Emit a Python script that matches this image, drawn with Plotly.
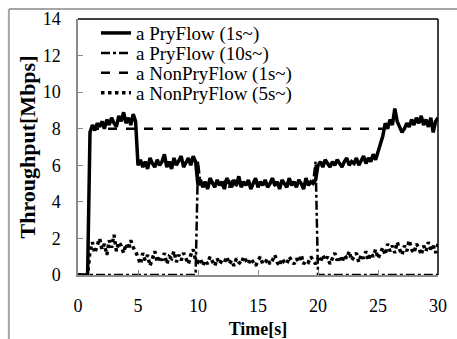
import numpy as np
import plotly.graph_objects as go

# time grid (s), step 0.2
time_s = [round(0.2 * i, 1) for i in range(151)]

pry_1s = [
    0, 0, 0, 0, 0,
    7.8, 8.2, 7.9, 8.3, 8.1, 8.4, 8.0, 8.5, 8.2, 8.6,
    8.3, 8.1, 8.7, 8.4, 8.9, 8.3, 8.6, 8.2, 8.8, 8.4,
    6.0, 6.3, 5.9, 6.2, 5.8, 6.4, 6.1, 5.9, 6.3, 6.0,
    6.2, 6.6, 5.9, 6.2, 5.8, 6.4, 6.0, 6.3, 6.5, 5.9,
    6.2, 6.4, 6.0, 6.5, 6.2,
    4.9, 5.2, 4.8, 5.1, 4.7, 5.3, 5.0, 4.8, 5.2, 4.9,
    5.1, 4.7, 5.3, 5.0, 4.8, 5.2, 4.9, 5.4, 4.8, 5.1,
    4.9, 5.2, 4.7, 5.0, 5.3, 4.8, 5.1, 4.9, 5.2, 4.8,
    5.0, 5.3, 4.9, 5.1, 4.7, 5.2, 5.0, 4.8, 5.3, 4.9,
    5.1, 4.8, 5.2, 5.0, 4.7, 5.3, 4.9, 5.1, 5.0, 5.2,
    6.0, 6.2, 5.9, 6.3, 6.1, 5.9, 6.2, 6.0, 6.3, 6.1,
    5.9, 6.2, 6.4, 6.0, 6.2, 6.1, 6.4, 6.0, 6.3, 6.5,
    6.1, 6.4, 6.2, 6.6, 6.3, 6.7, 7.2,
    7.6, 8.3, 8.0, 8.5, 8.2, 9.1, 8.4, 8.1, 7.8, 8.0,
    8.3, 8.1, 8.5, 8.2, 8.6, 8.3, 8.7, 8.2, 8.5, 8.1,
    8.6, 7.8, 8.4, 8.6,
]

pry_10s = [0.0] * 50 + [
    6.2, 5.0, 4.9, 5.1, 4.8, 5.1, 5.0, 4.9, 5.1, 5.0,
    4.9, 5.1, 5.0, 4.8, 5.1, 5.0, 4.9, 5.2, 4.9, 5.0,
    5.0, 5.1, 4.8, 5.0, 5.2, 4.9, 5.0, 5.0, 5.1, 4.9,
    5.0, 5.2, 4.9, 5.0, 4.8, 5.1, 5.0, 4.9, 5.2, 5.0,
    5.0, 4.9, 5.1, 5.0, 4.8, 5.2, 5.0, 5.0, 5.1, 6.2,
] + [0.0] * 51

nonpry_1s_t = [1.0, 25.4]
nonpry_1s = [8.0, 8.0]

nonpry_5s = [
    0, 0, 0, 0, 0,
    1.3, 1.8, 1.2, 1.6, 2.0, 1.4, 1.7, 1.1, 1.9, 1.5,
    2.2, 1.3, 1.8, 1.6, 1.2, 1.7, 1.4, 1.9, 1.5, 1.3,
    0.9, 0.6, 1.2, 0.8, 1.1, 0.5, 0.9, 1.3, 0.7, 1.0,
    0.8, 1.2, 0.6, 1.0, 0.9, 1.3, 0.7, 1.1, 0.8, 1.2,
    0.9, 0.6, 1.1, 1.4, 0.8,
    0.7, 0.9, 0.5, 0.8, 0.6, 1.0, 0.7, 0.5, 0.9, 0.6,
    0.8, 0.7, 1.0, 0.6, 0.8, 0.5, 0.9, 0.7, 0.6, 1.0,
    0.8, 0.6, 0.9, 0.7, 0.5, 0.8, 1.0, 0.6, 0.7, 0.9,
    0.6, 0.8, 1.1, 0.7, 0.5, 0.9, 0.7, 0.6, 1.0, 0.8,
    0.6, 0.9, 0.7, 1.1, 0.6, 0.8, 0.7, 1.0, 0.8, 0.6,
    0.9, 0.7, 1.1, 0.8, 1.0, 0.6, 0.9, 1.2, 0.8, 1.0,
    0.7, 1.1, 0.9, 1.3, 0.8, 1.0, 1.2, 0.7, 1.1, 0.9,
    1.3, 0.8, 1.2, 1.0, 1.4, 0.9, 1.2,
    1.5, 1.1, 1.7, 1.3, 1.6, 1.2, 1.8, 1.4, 1.1, 1.6,
    1.3, 1.9, 1.4, 1.2, 1.7, 1.5, 1.1, 1.6, 1.3, 1.8,
    1.4, 1.6, 1.2, 1.7,
]

assert len(pry_1s) == len(time_s) == len(pry_10s) == len(nonpry_5s)

labels = ["a PryFlow (1s~)", "a PryFlow (10s~)", "a NonPryFlow (1s~)", "a NonPryFlow (5s~)"]
x_ticks = [0, 5, 10, 15, 20, 25, 30]
y_ticks = [0, 2, 4, 6, 8, 10, 12, 14]

FONT = "Liberation Serif"
LEG_FONT = dict(family=FONT, size=19, color="black")

fig = go.Figure()
fig.add_trace(go.Scatter(x=time_s, y=nonpry_5s, mode="lines", name=labels[3], legend="legend4",
                         line=dict(color="black", width=3.5, dash="dot")))
fig.add_trace(go.Scatter(x=nonpry_1s_t, y=nonpry_1s, mode="lines", name=labels[2], legend="legend3",
                         line=dict(color="black", width=2.5, dash="dash")))
fig.add_trace(go.Scatter(x=time_s, y=pry_10s, mode="lines", name=labels[1], legend="legend2",
                         line=dict(color="black", width=2.5, dash="dashdot")))
fig.add_trace(go.Scatter(x=time_s, y=pry_1s, mode="lines", name=labels[0], legend="legend",
                         line=dict(color="black", width=3.5)))

def leg(yp):
    return dict(x=0.05, y=yp, xanchor="left", yanchor="middle",
                bgcolor="rgba(0,0,0,0)", font=LEG_FONT, itemwidth=30)

fig.update_layout(
    width=457, height=339,
    margin=dict(l=78, r=19, t=19, b=64, autoexpand=False),
    paper_bgcolor="white", plot_bgcolor="white",
    font=dict(family=FONT, size=18, color="black"),
    showlegend=True,
    legend=leg(0.945), legend2=leg(0.867), legend3=leg(0.789), legend4=leg(0.711),
    xaxis=dict(range=[0, 30], tickvals=x_ticks, ticktext=[str(v) for v in x_ticks],
               showgrid=False, zeroline=False, showline=True, linecolor="#8c8c8c",
               linewidth=1.5, ticks="inside", ticklen=5, tickcolor="#8c8c8c",
               ticklabelstandoff=14, automargin=False,
               tickfont=dict(family=FONT, size=18, color="black"),
               title=dict(text="<b>Time[s]</b>", font=dict(family=FONT, size=18, color="black"), standoff=12)),
    yaxis=dict(range=[0, 14], tickvals=y_ticks, ticktext=[str(v) for v in y_ticks],
               showgrid=False, zeroline=False, showline=True, linecolor="#8c8c8c",
               linewidth=1.5, ticks="inside", ticklen=5, tickcolor="#8c8c8c",
               ticklabelstandoff=12, automargin=False,
               tickfont=dict(family=FONT, size=18, color="black"),
               title=dict(text="<b>Throughput[Mbps]</b>", font=dict(family=FONT, size=22, color="black"), standoff=1)),
)

# black top and right borders of plot area
fig.add_shape(type="line", xref="paper", yref="paper", x0=0, x1=1, y0=1, y1=1,
              line=dict(color="black", width=1.5))
fig.add_shape(type="line", xref="paper", yref="paper", x0=1, x1=1, y0=0, y1=1,
              line=dict(color="black", width=1.5))
# outer gray frame (top and left visible)
fig.add_shape(type="line", xref="paper", yref="paper", x0=-0.192, x1=1.06, y0=1.039, y1=1.039,
              line=dict(color="#a6a6a6", width=2))
fig.add_shape(type="line", xref="paper", yref="paper", x0=-0.192, x1=-0.192, y0=1.039, y1=-0.26,
              line=dict(color="#a6a6a6", width=2))

fig.write_html("out.html", config={"displayModeBar": False},
               post_script="document.body.style.margin='0';")
